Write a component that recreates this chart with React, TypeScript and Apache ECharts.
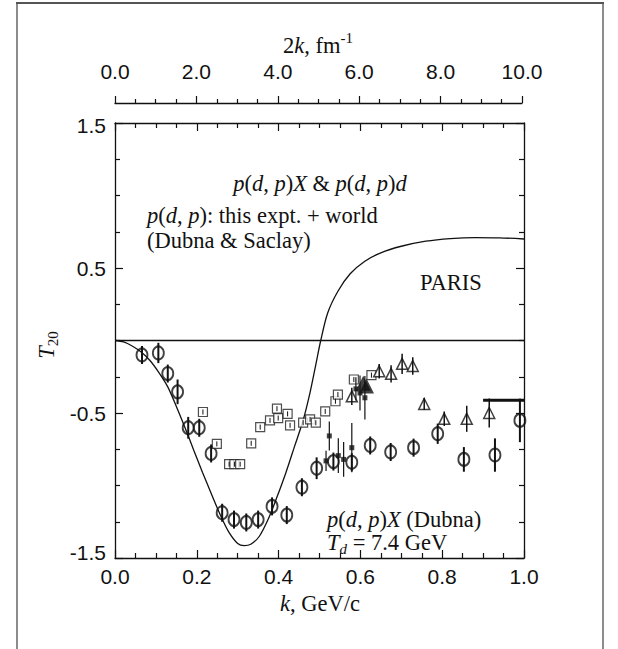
import React, { useEffect, useRef } from "react";
import * as echarts from "echarts";

// PARIS potential curve
const parisK = [0, 0.021, 0.043, 0.064, 0.086, 0.107, 0.129, 0.15, 0.171, 0.193, 0.214, 0.236, 0.257, 0.278, 0.3, 0.316, 0.332, 0.353, 0.375, 0.396, 0.418, 0.439, 0.46, 0.476, 0.49, 0.503, 0.52, 0.545, 0.575, 0.61, 0.65, 0.7, 0.76, 0.82, 0.88, 0.94, 1.0];
const parisT = [0, -0.01, -0.04, -0.08, -0.14, -0.22, -0.32, -0.455, -0.6, -0.76, -0.91, -1.06, -1.2, -1.32, -1.4, -1.414, -1.405, -1.35, -1.23, -1.08, -0.91, -0.73, -0.55, -0.37, -0.18, 0, 0.19, 0.34, 0.46, 0.545, 0.605, 0.65, 0.685, 0.703, 0.71, 0.708, 0.7];

// open circles: p(d,p)X Dubna
const circleK = [0.066, 0.106, 0.129, 0.153, 0.179, 0.206, 0.235, 0.262, 0.291, 0.321, 0.35, 0.384, 0.42, 0.457, 0.493, 0.534, 0.579, 0.624, 0.674, 0.73, 0.789, 0.853, 0.929, 0.99];
const circleT = [-0.1, -0.086, -0.228, -0.354, -0.602, -0.602, -0.779, -1.188, -1.235, -1.255, -1.235, -1.144, -1.204, -1.012, -0.881, -0.835, -0.84, -0.724, -0.769, -0.739, -0.643, -0.82, -0.79, -0.551];
const circleErr = [0.045, 0.07, 0.057, 0.085, 0.075, 0.057, 0.04, 0.03, 0.03, 0.03, 0.03, 0.03, 0.03, 0.03, 0.075, 0.03, 0.05, 0.03, 0.04, 0.05, 0.07, 0.085, 0.115, 0.15];

// open squares
const squareK = [0.215, 0.249, 0.279, 0.292, 0.306, 0.333, 0.355, 0.379, 0.396, 0.399, 0.422, 0.428, 0.46, 0.477, 0.491, 0.514, 0.539, 0.545, 0.584, 0.627];
const squareT = [-0.493, -0.713, -0.853, -0.853, -0.853, -0.709, -0.597, -0.551, -0.47, -0.535, -0.506, -0.585, -0.567, -0.544, -0.567, -0.489, -0.419, -0.373, -0.269, -0.239];

// open triangles
const triK = [0.579, 0.646, 0.675, 0.702, 0.728, 0.756, 0.805, 0.86, 0.915];
const triT = [-0.385, -0.212, -0.23, -0.161, -0.176, -0.438, -0.54, -0.54, -0.5];
const triErr = [0.06, 0.05, 0.06, 0.07, 0.06, 0.04, 0.05, 0.09, 0.1];

// small filled squares
const dotK = [0.516, 0.524, 0.546, 0.559, 0.579, 0.599, 0.611, 0.589];
const dotT = [-0.83, -0.658, -0.794, -0.82, -0.739, -0.362, -0.395, -0.334];
const dotErr = [0.07, 0.1, 0.12, 0.12, 0.17, 0.12, 0.15, 0.08];

// big filled triangles
const bigK = [0.607, 0.615];
const bigT = [-0.294, -0.314];

// horizontal bar
const barK = [0.9, 1.0];
const barT = [-0.412, -0.412];

const SANS = "'Liberation Sans', Arial, sans-serif";
const SERIF = "'Liberation Serif', 'Times New Roman', serif";
const INK = "#111";

const zip = (a: number[], b: number[]) => a.map((v, i) => [v, b[i]]);
const zip3 = (a: number[], b: number[], c: number[]) => a.map((v, i) => [v, b[i], c[i]]);

const rich = (size: number) => ({
  i: { fontStyle: "italic", fontFamily: SERIF, fontSize: size, fill: INK },
  r: { fontFamily: SERIF, fontSize: size, fill: INK },
  sub: { fontFamily: SERIF, fontSize: Math.round(size * 0.68), fill: INK, padding: [14, 0, 0, 0] },
  subi: { fontFamily: SERIF, fontStyle: "italic", fontSize: Math.round(size * 0.68), fill: INK, padding: [14, 0, 0, 0] },
  sup: { fontFamily: SERIF, fontSize: Math.round(size * 0.68), fill: INK, padding: [0, 0, 14, 0] },
});

const txt = (text: string, x: number, y: number, align = "left", size = 22.5, extra: any = {}) => ({
  type: "text",
  x,
  y,
  ...extra,
  style: {
    text,
    fontFamily: SERIF,
    fontSize: size,
    fill: INK,
    textAlign: align,
    textVerticalAlign: "middle",
    rich: rich(size),
  },
});

const errRender = (minHalf: number, width: number) => (params: any, api: any) => {
  const k = api.value(0);
  const t = api.value(1);
  const e = api.value(2);
  const c = api.coord([k, t]);
  const a = api.coord([k, t + e]);
  const b = api.coord([k, t - e]);
  const y1 = Math.min(a[1], c[1] - minHalf);
  const y2 = Math.max(b[1], c[1] + minHalf);
  return {
    type: "line",
    shape: { x1: c[0], y1, x2: c[0], y2 },
    style: { stroke: INK, lineWidth: width },
  };
};

const tickStyle = { color: INK, width: 1.2 };

export default function App() {
  const ref = useRef<HTMLDivElement>(null);
  useEffect(() => {
    const chart = echarts.init(ref.current!, undefined, { renderer: "svg" });
    const axisLabel = { fontSize: 21, fontFamily: SANS, color: INK, formatter: (v: number) => v.toFixed(1) };
    chart.setOption({
      animation: false,
      backgroundColor: "#fff",
      grid: [
        { left: 115, top: 123, width: 409, height: 435 },
        { left: 115, top: 103, width: 407, height: 1 },
      ],
      xAxis: [
        {
          gridIndex: 0, type: "value", min: 0, max: 1, interval: 0.2, position: "bottom",
          axisLine: { show: true, onZero: false, lineStyle: { color: INK, width: 1.3 } },
          axisTick: { inside: true, length: 8, lineStyle: tickStyle },
          minorTick: { show: true, splitNumber: 4, length: 5, lineStyle: tickStyle },
          axisLabel: { ...axisLabel, margin: 8 },
          splitLine: { show: false },
        },
        {
          gridIndex: 0, type: "value", min: 0, max: 1, interval: 0.2, position: "top",
          axisLine: { show: true, onZero: false, lineStyle: { color: INK, width: 1.3 } },
          axisTick: { inside: true, length: 8, lineStyle: tickStyle },
          minorTick: { show: true, splitNumber: 4, length: 5, lineStyle: tickStyle },
          axisLabel: { show: false },
          splitLine: { show: false },
        },
        {
          gridIndex: 1, type: "value", min: 0, max: 10, interval: 2, position: "top",
          axisLine: { show: true, onZero: false, lineStyle: { color: INK, width: 1.3 } },
          axisTick: { inside: false, length: 7, lineStyle: tickStyle },
          minorTick: { show: true, splitNumber: 4, length: 4, lineStyle: tickStyle },
          axisLabel: { ...axisLabel, margin: 21 },
          splitLine: { show: false },
        },
      ],
      yAxis: [
        {
          gridIndex: 0, type: "value", min: -1.5, max: 1.5, interval: 1, position: "left",
          axisLine: { show: true, onZero: false, lineStyle: { color: INK, width: 1.3 } },
          axisTick: { inside: true, length: 8, lineStyle: tickStyle },
          minorTick: { show: true, splitNumber: 4, length: 5, lineStyle: tickStyle },
          axisLabel: {
            ...axisLabel,
            margin: 9,
            formatter: (v: number) => (v === -1.5 ? "{lo|-1.5}" : v === 1.5 ? "{hi|1.5}" : v.toFixed(1)),
            rich: {
              lo: { fontSize: 21, fontFamily: SANS, color: INK, padding: [0, 0, 12, 0] },
              hi: { fontSize: 21, fontFamily: SANS, color: INK, padding: [5, 0, 0, 0] },
            },
          },
          splitLine: { show: false },
        },
        {
          gridIndex: 0, type: "value", min: -1.5, max: 1.5, interval: 1, position: "right",
          axisLine: { show: true, onZero: false, lineStyle: { color: INK, width: 1.3 } },
          axisTick: { inside: true, length: 8, lineStyle: tickStyle },
          minorTick: { show: true, splitNumber: 4, length: 5, lineStyle: tickStyle },
          axisLabel: { show: false },
          splitLine: { show: false },
        },
        { gridIndex: 1, type: "value", min: 0, max: 1, show: false },
      ],
      series: [
        {
          type: "line", name: "zero", xAxisIndex: 0, yAxisIndex: 0, data: [[0, 0], [1, 0]],
          showSymbol: false, lineStyle: { color: INK, width: 1.5 }, z: 2,
        },
        {
          type: "line", name: "PARIS", xAxisIndex: 0, yAxisIndex: 0, data: zip(parisK, parisT),
          showSymbol: false, smooth: 0.3, lineStyle: { color: INK, width: 1.3 }, z: 2,
        },
        {
          type: "line", name: "bar", xAxisIndex: 0, yAxisIndex: 0, data: zip(barK, barT),
          showSymbol: false, lineStyle: { color: INK, width: 3 }, z: 2,
        },
        {
          type: "scatter", name: "circles", data: zip(circleK, circleT), symbol: "circle",
          symbolSize: [11, 13], itemStyle: { color: "rgba(255,255,255,0)", borderColor: INK, borderWidth: 2 }, z: 3,
        },
        {
          type: "custom", name: "circleErr", data: zip3(circleK, circleT, circleErr),
          renderItem: errRender(9, 2), z: 4,
        },
        {
          type: "scatter", name: "squares", data: zip(squareK, squareT), symbol: "rect",
          symbolSize: 9, itemStyle: { color: "#fff", borderColor: "#222", borderWidth: 1.2 }, z: 3,
        },
        {
          type: "custom", name: "squareErr", data: zip3(squareK, squareT, squareK.map(() => 0)),
          renderItem: errRender(2.5, 1), z: 4,
        },
        {
          type: "scatter", name: "triangles", data: zip(triK, triT), symbol: "triangle",
          symbolSize: 11, itemStyle: { color: "#fff", borderColor: INK, borderWidth: 1.5 }, z: 3,
        },
        {
          type: "custom", name: "triErr", data: zip3(triK, triT, triErr),
          renderItem: errRender(6, 1.5), z: 4,
        },
        {
          type: "custom", name: "dotErr", data: zip3(dotK, dotT, dotErr),
          renderItem: errRender(0, 1.2), z: 4,
        },
        {
          type: "scatter", name: "dots", data: zip(dotK, dotT), symbol: "rect",
          symbolSize: 5, itemStyle: { color: INK }, z: 5,
        },
        {
          type: "scatter", name: "big", data: zip(bigK, bigT), symbol: "triangle",
          symbolSize: 15, itemStyle: { color: INK }, z: 5,
        },
      ],
      graphic: [
        { type: "line", shape: { x1: 17, y1: 3, x2: 17, y2: 649 }, style: { stroke: "#8c8c8c", lineWidth: 2 } },
        { type: "line", shape: { x1: 603, y1: 3, x2: 603, y2: 649 }, style: { stroke: "#8c8c8c", lineWidth: 2 } },
        { type: "line", shape: { x1: 16, y1: 3, x2: 604, y2: 3 }, style: { stroke: "#555", lineWidth: 2 } },
        txt("2{i|k}, fm{sup|-1}", 318, 45, "center"),
        txt("{i|k}, GeV/c", 320, 603, "center"),
        txt("{i|T}{sub|20}", 46, 345, "center", 22.5, { rotation: Math.PI / 2 }),
        txt("{i|p}({i|d}, {i|p}){i|X} & {i|p}({i|d}, {i|p}){i|d}", 320, 183, "center"),
        txt("{i|p}({i|d}, {i|p}): this expt. + world", 147, 215, "left"),
        txt("(Dubna & Saclay)", 147, 240, "left"),
        txt("PARIS", 420, 282, "left"),
        txt("{i|p}({i|d}, {i|p}){i|X} (Dubna)", 327, 519, "left"),
        txt("{i|T}{subi|d} = 7.4 GeV", 327, 542, "left"),
      ],
    });
    return () => chart.dispose();
  }, []);
  return (
    <div
      ref={ref}
      style={{ position: "fixed", left: 0, top: 0, width: 618, height: 649, background: "#fff" }}
    />
  );
}
